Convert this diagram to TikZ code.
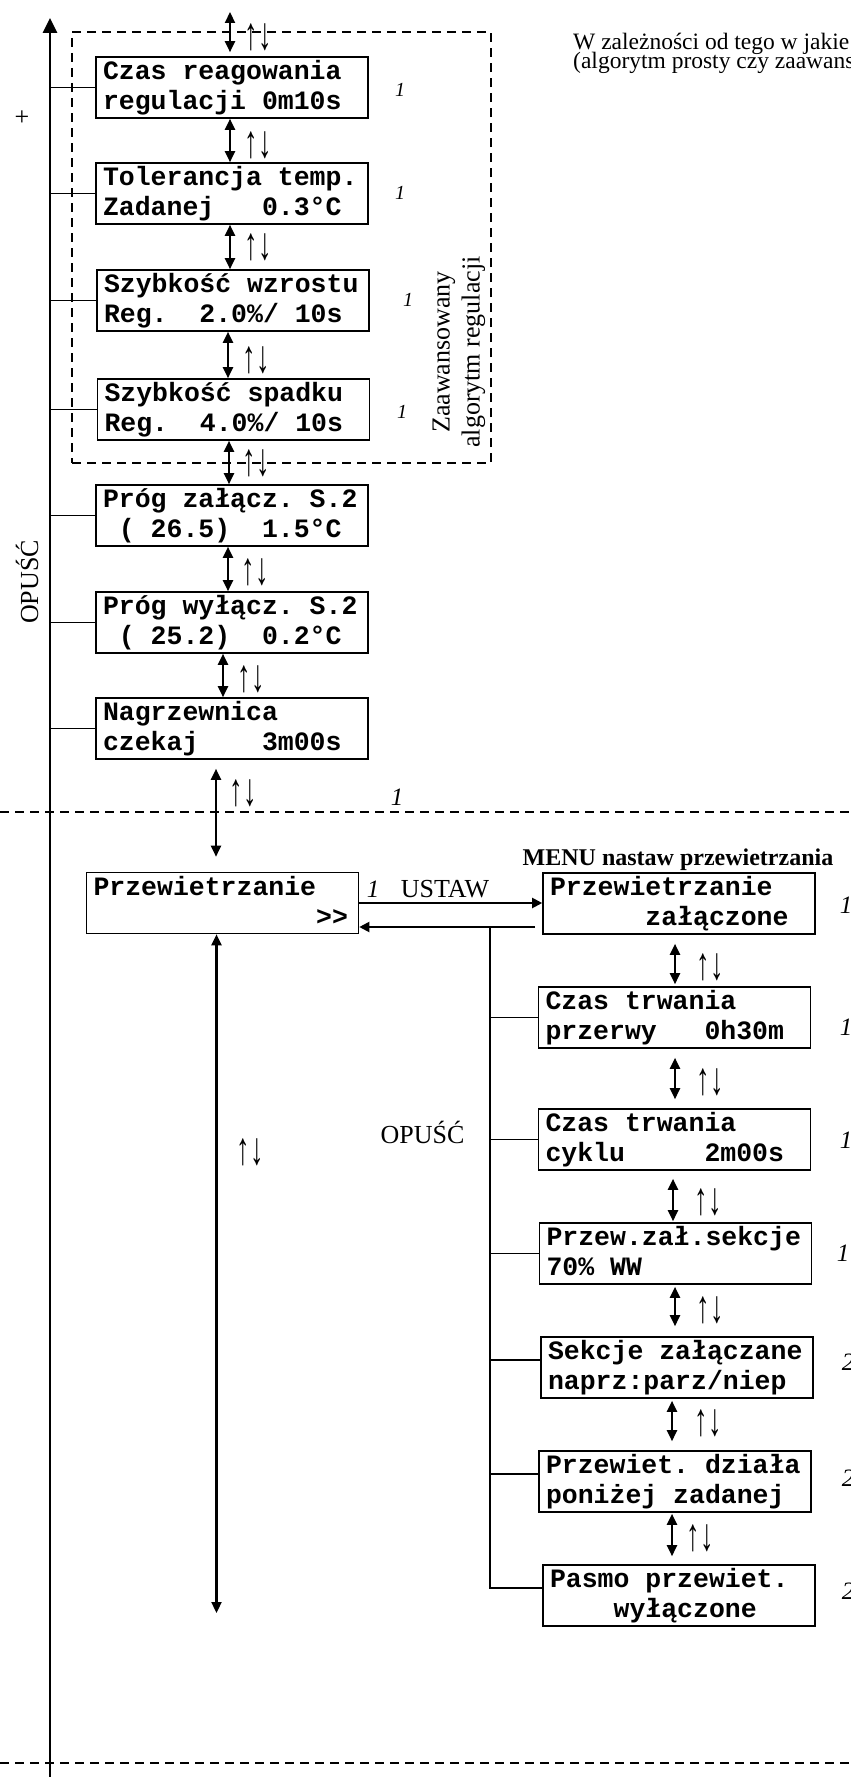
\documentclass[tikz,border=0pt]{standalone}
\usepackage{fontspec}
\setmainfont{Liberation Serif}
\newfontfamily\lcdfont{Liberation Mono}[WordSpace={1,0,0},PunctuationSpace=WordSpace]
\usetikzlibrary{arrows.meta}
\newcommand\lcdstrut{\rule[-7pt]{0pt}{28pt}}
\newcommand\lcdtext[2]{\spaceskip=0pt\xspaceskip=0pt\lcdstrut#1\\\lcdstrut#2}
\tikzset{
  lcd/.style={draw, line width=1.6pt, minimum width=272pt, minimum height=61pt,
    text width=258pt, inner xsep=7pt, inner ysep=0pt, align=left,
    font=\lcdfont\bfseries\fontsize{26.5pt}{30pt}\selectfont\frenchspacing},
  conn/.style={line width=1.4pt},
  dbl/.style={line width=2.2pt, {Triangle[length=11pt,width=10pt]}-{Triangle[length=11pt,width=10pt]}},
  sarrow/.style={line width=2pt, -{Triangle[length=10pt,width=10pt]}},
  mainarrow/.style={line width=2.6pt, -{Triangle[length=15pt,width=14pt]}},
  dashline/.style={line width=1.5pt, dash pattern=on 9pt off 6pt},
  ud/.style={font=\fontsize{27pt}{27pt}\selectfont, inner sep=0pt, yscale=1.7},
  numsm/.style={font=\itshape\fontsize{20pt}{20pt}\selectfont, inner sep=0pt},
  numlg/.style={font=\itshape\fontsize{25pt}{25pt}\selectfont, inner sep=0pt},
  lbl/.style={font=\fontsize{26pt}{30pt}\selectfont, inner sep=0pt},
  note/.style={font=\fontsize{23.5pt}{23.5pt}\selectfont, anchor=base west, inner sep=0pt},
}
\begin{document}
\begin{tikzpicture}[x=1pt,y=1pt]
\useasboundingbox (0,0) rectangle (851,-1777);

% main axis
\coordinate (mb) at (50,-1777);
\coordinate (mt) at (50,-18);
\draw[mainarrow] (mb) -- (mt);
\node[lbl] (plus) at (22,-118) {+};
\node[lbl, rotate=90, anchor=base] (opusc1) at (38,-582) {OPUŚĆ};

% top-right note (cut at the page edge, as in the reference)
\node[note] (noteA) at (573,-49) {W zależności od tego w jakie};
\node[note] (noteB) at (573,-69) {(algorytm prosty czy zaawans};

% dashed group
\node[draw, dashline, minimum width=419pt, minimum height=431pt, inner sep=0pt] (adv) at (281.5,-247.5) {};
\node[lbl, rotate=90, align=center] (advlbl) at (459,-352) {Zaawansowany\\algorytm regulacji};

% upper boxes
\node[lcd] (b1) at (232,-87.5) {\lcdtext{Czas reagowania}{regulacji 0m10s}};
\node[lcd] (b2) at (232,-193.5) {\lcdtext{Tolerancja temp.}{Zadanej~~~0.3°C}};
\node[lcd] (b3) at (233,-300.5) {\lcdtext{Szybkość wzrostu}{Reg.~~2.0\%/ 10s}};
\node[lcd] (b4) at (233.5,-409.5) {\lcdtext{Szybkość spadku}{Reg.~~4.0\%/ 10s}};
\node[lcd] (b5) at (232,-515.5) {\lcdtext{Próg załącz. S.2}{~( 26.5)~~1.5°C}};
\node[lcd] (b6) at (232,-622.5) {\lcdtext{Próg wyłącz. S.2}{~( 25.2)~~0.2°C}};
\node[lcd] (b7) at (232,-728.5) {\lcdtext{Nagrzewnica}{czekaj~~~~3m00s}};

\foreach \b in {b1,b2,b3,b4,b5,b6,b7} \draw[conn] (\b.west -| mt) -- (\b.west);

\coordinate (t0) at (230,-12);
\draw[dbl] (t0) -- ([xshift=-2pt,yshift=4pt]b1.north);
\draw[dbl] ([xshift=-2pt]b1.south) -- ([xshift=-2pt]b2.north);
\draw[dbl] ([xshift=-2pt]b2.south) -- ([xshift=-3pt]b3.north);
\draw[dbl] ([xshift=-5pt]b3.south) -- ([xshift=-5.5pt]b4.north);
\draw[dbl] ([xshift=-4.5pt]b4.south) -- ([xshift=-3pt]b5.north);
\draw[dbl] ([xshift=-4pt]b5.south) -- ([xshift=-4pt]b6.north);
\draw[dbl] ([xshift=-9pt]b6.south) -- ([xshift=-9pt]b7.north);

\node[ud] (u0) at (258,-37) {↑↓};
\node[ud] (u1) at (258,-145) {↑↓};
\node[ud] (u2) at (258,-247) {↑↓};
\node[ud] (u3) at (256,-360) {↑↓};
\node[ud] (u4) at (256,-463) {↑↓};
\node[ud] (u5) at (255,-572) {↑↓};
\node[ud] (u6) at (251,-679) {↑↓};
\node[ud] (u7) at (243,-793) {↑↓};

\node[numsm] (n1) at (400,-90) {1};
\node[numsm] (n2) at (400,-193) {1};
\node[numsm] (n3) at (408,-300) {1};
\node[numsm] (n4) at (402,-412) {1};
\node[numlg] (n5) at (397,-797) {1};

% horizontal dashed lines
\coordinate (hl1) at (0,-812); \coordinate (hr1) at (851,-812);
\draw[dashline] (hl1) -- (hr1);
\coordinate (hl2) at (0,-1763); \coordinate (hr2) at (851,-1763);
\draw[dashline] (hl2) -- (hr2);

% lower part
\node[lcd] (prz) at (222.5,-903) {\lcdtext{Przewietrzanie}{~~~~~~~~~~~~~~>{}>}};
\coordinate (ax) at (216,0);
\draw[dbl, shorten <=9pt, shorten >=15pt] (b7.south -| ax) -- (prz.north -| ax);
\coordinate (lb) at (216.5,-1613);
\draw[dbl] (prz.south -| lb) -- (lb);
\node[ud] (u8) at (250,-1152) {↑↓};

\node[font=\bfseries\fontsize{24pt}{24pt}\selectfont, anchor=base, inner sep=0pt] (menu) at (678,-865) {MENU nastaw przewietrzania};

\node[lcd] (m1) at (679,-903.5) {\lcdtext{Przewietrzanie}{~~~~~~załączone}};
\node[lcd] (m2) at (674.5,-1017.5) {\lcdtext{Czas trwania}{przerwy~~~0h30m}};
\node[lcd] (m3) at (674.5,-1139.5) {\lcdtext{Czas trwania}{cyklu~~~~~2m00s}};
\node[lcd] (m4) at (675.5,-1253.5) {\lcdtext{Przew.zał.sekcje}{70\% WW}};
\node[lcd] (m5) at (677,-1367.5) {\lcdtext{Sekcje załączane}{naprz:parz/niep}};
\node[lcd] (m6) at (675,-1481.5) {\lcdtext{Przewiet. działa}{poniżej zadanej}};
\node[lcd] (m7) at (679,-1595.5) {\lcdtext{Pasmo przewiet.}{~~~~wyłączone}};

\draw[sarrow] (prz.east) -- (prz.east -| m1.west);
\node[numlg, anchor=base] (n6) at (373,-897) {1};
\node[lbl, anchor=base] (ustaw) at (445,-897) {USTAW};

\coordinate (ret) at (535,-927);
\draw[sarrow] (ret) -- (ret -| prz.east);
\coordinate (vtop) at (490,-927);
\coordinate (c5) at ([yshift=7.5pt]m5.west);
\coordinate (c6) at ([yshift=7.5pt]m6.west);
\coordinate (c7) at ([yshift=7.5pt]m7.west);
\draw[conn] (vtop) |- (c7);
\draw[conn] (m2.west -| vtop) -- (m2.west);
\draw[conn] (m3.west -| vtop) -- (m3.west);
\draw[conn] (m4.west -| vtop) -- (m4.west);
\draw[conn] (c5 -| vtop) -- (c5);
\draw[conn] (c6 -| vtop) -- (c6);
\node[lbl, anchor=base] (opusc2) at (422.5,-1143) {OPUŚĆ};

\coordinate (mx1) at (675,0);
\draw[dbl, shorten <=9pt, shorten >=2pt] (m1.south -| mx1) -- (m2.north -| mx1);
\coordinate (mx2) at (675,0);
\draw[dbl, shorten <=9pt, shorten >=9pt] (m2.south -| mx2) -- (m3.north -| mx2);
\coordinate (mx3) at (673,0);
\draw[dbl, shorten <=8pt, shorten >=1pt] (m3.south -| mx3) -- (m4.north -| mx3);
\coordinate (mx4) at (675,0);
\draw[dbl, shorten <=2pt, shorten >=10pt] (m4.south -| mx4) -- (m5.north -| mx4);
\coordinate (mx5) at (672,0);
\draw[dbl, shorten <=2pt, shorten >=9pt] (m5.south -| mx5) -- (m6.north -| mx5);
\coordinate (mx6) at (672,0);
\draw[dbl, shorten <=1pt, shorten >=8pt] (m6.south -| mx6) -- (m7.north -| mx6);

\node[ud] (v1) at (710,-967) {↑↓};
\node[ud] (v2) at (710,-1082) {↑↓};
\node[ud] (v3) at (708,-1202) {↑↓};
\node[ud] (v4) at (710,-1310) {↑↓};
\node[ud] (v5) at (708,-1423) {↑↓};
\node[ud] (v6) at (700,-1538) {↑↓};

\node[numlg] (k1) at (846,-905) {1};
\node[numlg] (k2) at (846,-1027) {1};
\node[numlg] (k3) at (846,-1140) {1};
\node[numlg] (k4) at (843,-1253) {1};
\node[numlg] (k5) at (848,-1362) {2};
\node[numlg] (k6) at (848,-1478) {2};
\node[numlg] (k7) at (848,-1591) {2};
\end{tikzpicture}
\end{document}
